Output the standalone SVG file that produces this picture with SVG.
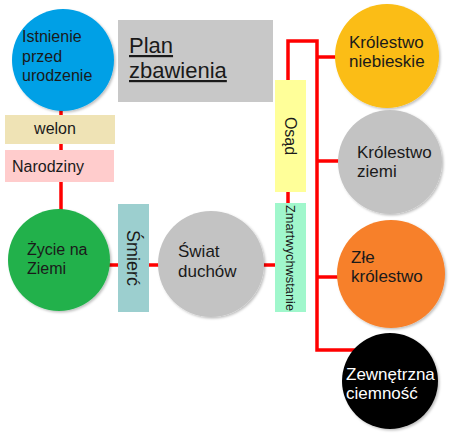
<svg xmlns="http://www.w3.org/2000/svg" width="453" height="441" viewBox="0 0 453 441">
<defs>
<style>
text{font-family:"Liberation Sans",Arial,sans-serif;fill:#1a1a1a;font-size:16px}
.w{fill:#ffffff}
.r{font-size:17px}
.c{stroke:#ff0000;stroke-width:3.5;fill:none}
</style>
<filter id="sh" x="-10%" y="-10%" width="130%" height="130%">
<feDropShadow dx="1.5" dy="1.5" stdDeviation="1" flood-color="#000" flood-opacity="0.25"/>
</filter>
</defs>
<rect width="453" height="441" fill="#ffffff"/>
<g id="connectors">
<path class="c" d="M61,110 V210"/>
<path class="c" d="M108,265 H160"/>
<path class="c" d="M262,265 H277"/>
<path class="c" d="M288,192 V205"/>
<path class="c" d="M288,82 V41 H317 V350 H356"/>
<path class="c" d="M317,57 H337"/>
<path class="c" d="M317,161 H340"/>
<path class="c" d="M317,277 H340"/>
</g>
<g id="plan">
<rect x="118" y="20" width="155" height="82" fill="#c8c8c8"/>
<text x="129" y="53" style="font-size:22px;text-decoration:underline">Plan </text>
<text x="129" y="78" style="font-size:22px;text-decoration:underline">zbawienia</text>
</g>
<g id="istnienie">
<circle cx="63" cy="60" r="51" fill="#02a0e6" filter="url(#sh)"/>
<text x="22" y="42">Istnienie</text>
<text x="22" y="62">przed</text>
<text x="22" y="81">urodzenie</text>
</g>
<g id="welon">
<rect x="5" y="115" width="110" height="29" fill="#efe3b5"/>
<text x="55" y="134" text-anchor="middle">welon</text>
</g>
<g id="narodziny">
<rect x="5" y="150" width="109" height="32" fill="#ffcccc"/>
<text x="12" y="172">Narodziny</text>
</g>
<g id="zycie">
<circle cx="59" cy="260" r="51" fill="#22b14c" filter="url(#sh)"/>
<text x="27" y="255">Życie na</text>
<text x="27" y="274">Ziemi</text>
</g>
<g id="smierc">
<rect x="118" y="204" width="31" height="108" fill="#9ccfcf"/>
<text transform="translate(127,258) rotate(90)" text-anchor="middle" style="font-size:18px">Śmierć</text>
</g>
<g id="swiat">
<circle cx="211" cy="264" r="53" fill="#c3c3c3" filter="url(#sh)"/>
<text class="r" x="178" y="257">Świat</text>
<text class="r" x="178" y="277">duchów</text>
</g>
<g id="osad">
<rect x="275" y="80" width="31" height="112" fill="#ffff99"/>
<text transform="translate(285,136) rotate(90)" text-anchor="middle">Osąd</text>
</g>
<g id="zmartwychwstanie">
<rect x="275" y="203" width="31" height="109" fill="#a0f7cc"/>
<text transform="translate(286,258) rotate(90)" text-anchor="middle" style="font-size:13px" textLength="106" lengthAdjust="spacingAndGlyphs">Zmartwychwstanie</text>
</g>
<g id="niebieskie">
<circle cx="387" cy="56" r="52" fill="#fbbd12" filter="url(#sh)"/>
<text class="r" x="349" y="48">Królestwo</text>
<text class="r" x="349" y="67">niebieskie</text>
</g>
<g id="ziemi">
<circle cx="390" cy="162" r="52" fill="#c3c3c3" filter="url(#sh)"/>
<text class="r" x="357" y="158">Królestwo</text>
<text class="r" x="357" y="177">ziemi</text>
</g>
<g id="zle">
<circle cx="391" cy="274" r="54" fill="#f7802a" filter="url(#sh)"/>
<text class="r" x="351" y="263">Złe</text>
<text class="r" x="351" y="282">królestwo</text>
</g>
<g id="ciemnosc">
<circle cx="390" cy="381" r="48" fill="#000000" filter="url(#sh)"/>
<text class="r w" x="346" y="380">Zewnętrzna</text>
<text class="r w" x="346" y="399">ciemność</text>
</g>
</svg>
